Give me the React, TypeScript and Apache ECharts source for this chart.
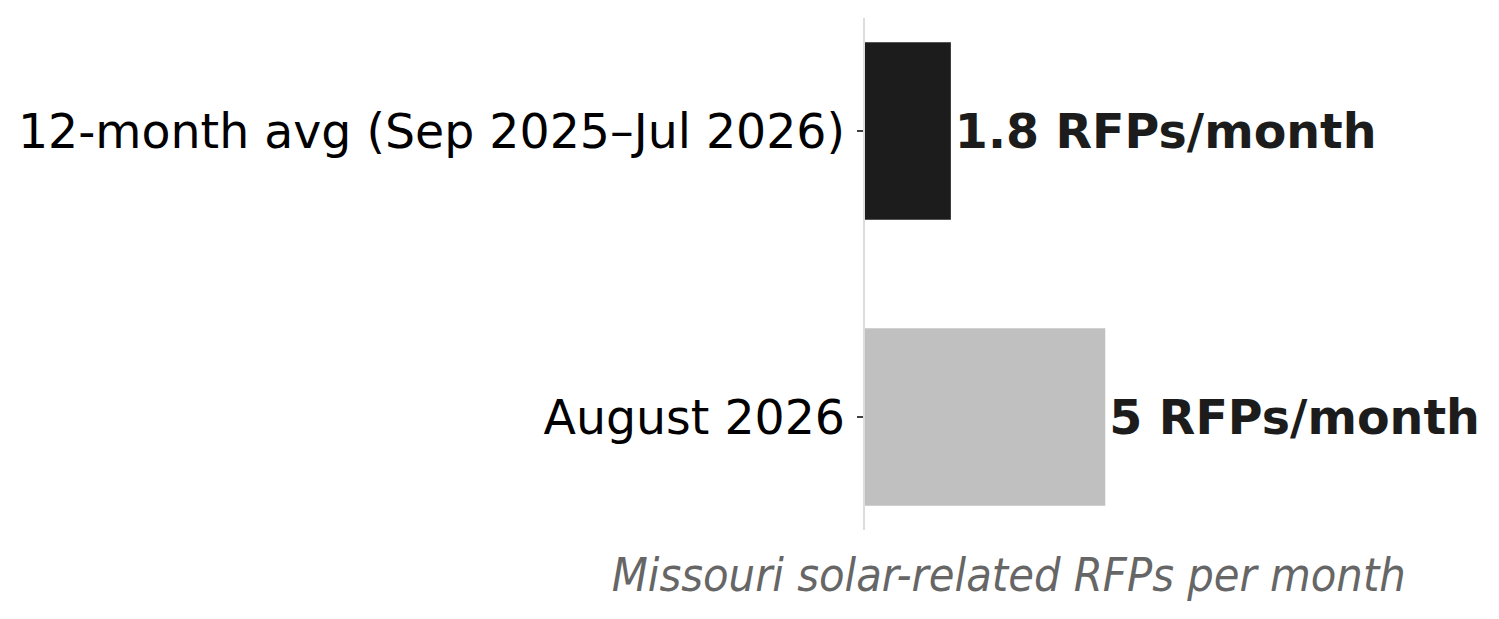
import { useEffect, useRef } from "react";
import * as echarts from "echarts";

// categories bottom -> top (ECharts category y axis starts at the bottom)
const categories = ["August 2026", "12-month avg (Sep 2025–Jul 2026)"];
const values = [5, 1.8];
const barColors = ["#c0c0c0", "#1c1c1c"];
const unitLabel = "RFPs/month";
const axisTitle = "Missouri solar-related RFPs per month";

export default function App() {
  const chartRef = useRef<HTMLDivElement>(null);

  useEffect(() => {
    document.body.style.margin = "0";
    if (!chartRef.current) return;
    const chart = echarts.init(chartRef.current, undefined, { renderer: "svg" });

    chart.setOption({
      animation: false,
      textStyle: { fontFamily: "DejaVu Sans" },
      grid: {
        left: 864,
        right: 345.5,
        top: -12,
        bottom: 59,
        containLabel: false,
        outerBoundsMode: "none",
      },
      xAxis: {
        type: "value",
        min: 0,
        max: 6,
        axisLine: { show: false },
        axisTick: { show: false },
        axisLabel: { show: false },
        splitLine: { show: false },
        name: axisTitle,
        nameLocation: "middle",
        nameGap: -9,
        nameTextStyle: {
          fontFamily: "DejaVu Sans Condensed",
          fontStyle: "italic",
          fontSize: 46.5,
          color: "#666666",
        },
      },
      yAxis: {
        type: "category",
        data: categories,
        axisLine: { show: false },
        axisTick: { show: true, alignWithLabel: true, length: 7, lineStyle: { color: "#000", width: 1.5 } },
        axisLabel: { fontSize: 47.4, color: "#000", margin: 19, fontFamily: "DejaVu Sans" },
        splitLine: { show: false },
      },
      graphic: [
        {
          type: "line",
          shape: { x1: 864, y1: 18, x2: 864, y2: 530 },
          style: { stroke: "#dcdcdc", lineWidth: 2 },
          z: 10,
        },
      ],
      series: [
        {
          type: "bar",
          barWidth: "62%",
          data: values.map((v, i) => ({ value: v, itemStyle: { color: barColors[i] } })),
          label: {
            show: true,
            position: "right",
            distance: 4,
            formatter: (p: any) => `${p.value} ${unitLabel}`,
            fontSize: 47.5,
            fontWeight: "bold",
            color: "#1c1c1c",
            fontFamily: "DejaVu Sans",
          },
        },
      ],
    });

    return () => chart.dispose();
  }, []);

  return <div ref={chartRef} style={{ width: 1499, height: 619 }} />;
}
